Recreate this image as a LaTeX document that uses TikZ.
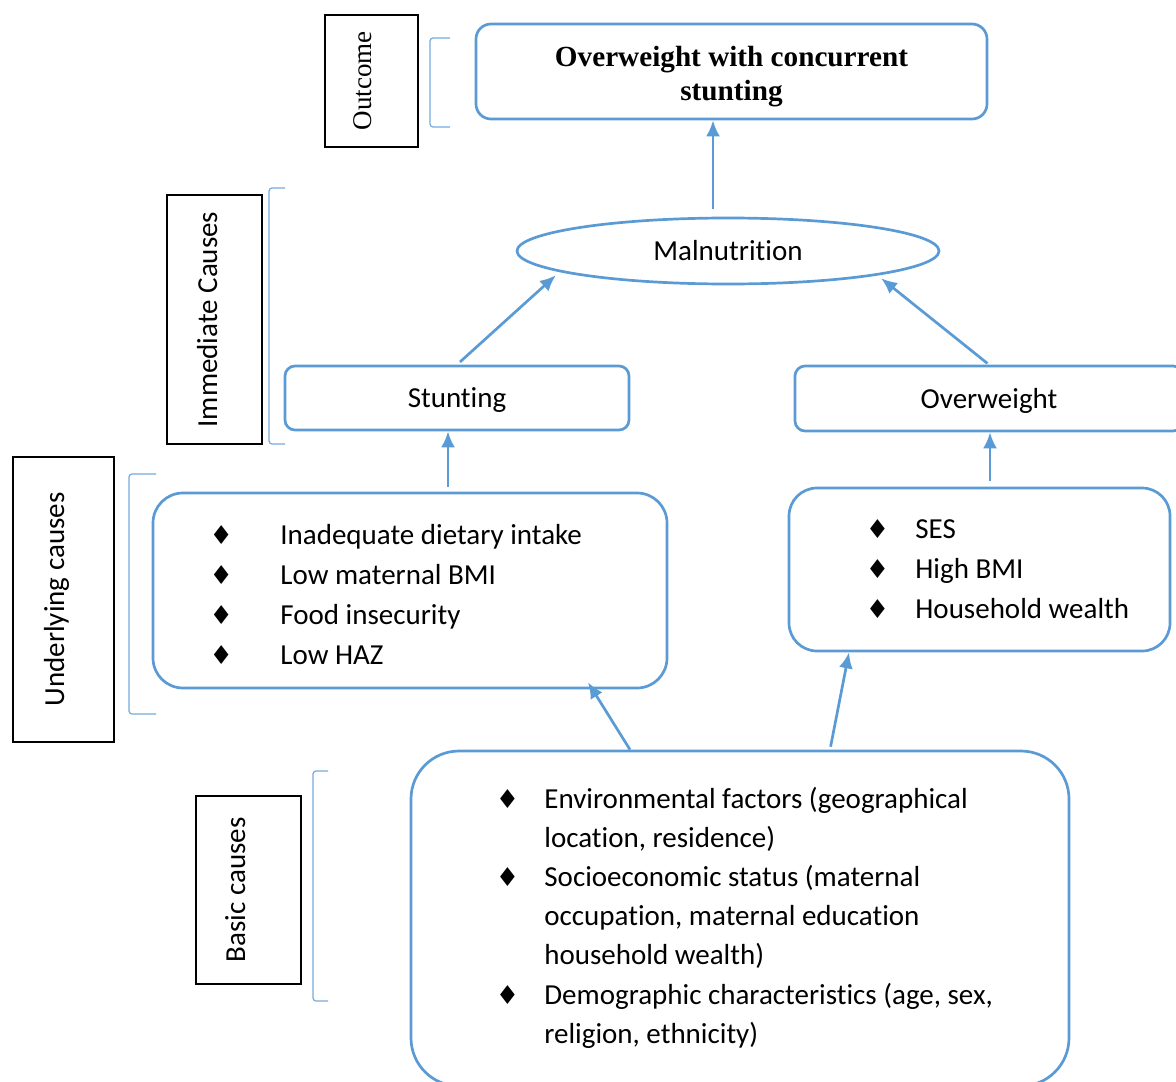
\documentclass[tikz,border=0pt]{standalone}
\usepackage{fontspec}
\setmainfont{Carlito}[Ligatures=NoCommon, RawFeature={-liga;-clig;-calt}]
\newfontfamily\timesfont{Liberation Serif}
\newfontfamily\dingfont{DejaVu Sans}
\usepackage{tikz}
\usetikzlibrary{arrows.meta,shapes.geometric}
\definecolor{ublue}{HTML}{5B9BD5}
\newcommand{\dmd}[1]{\makebox[#1][c]{\dingfont\fontsize{13}{13}\selectfont ♦}}
\newcommand{\up}[2]{\raisebox{#1}[\height][\depth]{#2}}

\begin{document}
\begin{tikzpicture}[x=0.5pt, y=-0.5pt,
  rbox/.style={draw=ublue, line width=1.35pt, rounded corners=#1, inner sep=0pt},
  rbox/.default=5pt,
  lbl/.style={draw=black, line width=0.6pt, rotate=90, inner sep=0pt},
  brk/.style={draw=ublue!85, line width=0.6pt, rounded corners=1.5pt},
  arr/.style={ublue, line width=1.35pt, -{Latex[length=8pt,width=7pt]}},
  txt/.style={font=\fontsize{14.5}{20}\selectfont, text height=9.5pt, text depth=0pt}]
\useasboundingbox (0,0) rectangle (1176,1081);

% level labels
\node[lbl, minimum width=66pt, minimum height=46.5pt, font=\timesfont\fontsize{13.5}{15}\selectfont] (outlbl) at (371.5,81) {\up{4.5pt}{Outcome}};
\node[lbl, txt, minimum width=124.5pt, minimum height=47.5pt] (immlbl) at (214.5,319.5) {\up{3.5pt}{Immediate Causes}};
\node[lbl, txt, minimum width=142.5pt, minimum height=50.5pt] (undlbl) at (63.5,599.5) {\up{4.5pt}{Underlying causes}};
\node[lbl, txt, minimum width=94pt, minimum height=52.5pt] (baslbl) at (248.5,890) {\up{6.5pt}{Basic causes}};

% brackets
\draw[brk] (450,38) -- (430,38) -- (430,127) -- (450,127);
\draw[brk] (285,188) -- (269,188) -- (269,444) -- (285,444);
\draw[brk] (156,474) -- (129,474) -- (129,714) -- (156,714);
\draw[brk] (328,771) -- (313,771) -- (313,1001) -- (328,1001);

% boxes
\node[rbox=7.5pt, minimum width=255.5pt, minimum height=47.5pt,
  font=\timesfont\bfseries\fontsize{14.6}{17}\selectfont] (title) at (731.5,71.5)
  {\up{-2.5pt}{\begin{tabular}{@{}c@{}}Overweight with concurrent\\stunting\end{tabular}}};
\node[draw=ublue, line width=1.35pt, ellipse, inner sep=0pt, minimum width=211pt, minimum height=33pt, txt] (mal) at (728,251) {Malnutrition};
\node[rbox, txt, minimum width=172pt, minimum height=32pt] (stunt) at (457,398) {Stunting};
\node[rbox, txt, minimum width=194pt, minimum height=32.5pt] (over) at (989,398.5) {Overweight};
\node[rbox=15pt, minimum width=257pt, minimum height=97.5pt] (under) at (410,590.5) {};
\node[rbox=14pt, minimum width=190.5pt, minimum height=81.5pt] (right) at (979.5,569.5) {};
\node[rbox=24pt, minimum width=329pt, minimum height=167.5pt] (basic) at (740,918.5) {};

% lists
\node[anchor=base west, inner sep=0pt, font=\fontsize{14.5}{20}\selectfont] (underlist) at (162,544)
  {\begin{tabular}[t]{@{}l@{}}
   \dmd{59pt}Inadequate dietary intake\\
   \dmd{59pt}Low maternal BMI\\
   \dmd{59pt}Food insecurity\\
   \dmd{59pt}Low HAZ
   \end{tabular}};
\node[anchor=base west, inner sep=0pt, font=\fontsize{14.5}{20}\selectfont] (rightlist) at (839,538)
  {\begin{tabular}[t]{@{}l@{}}
   \dmd{38pt}SES\\
   \dmd{38pt}High BMI\\
   \dmd{38pt}Household wealth
   \end{tabular}};
\node[anchor=base west, inner sep=0pt, font=\fontsize{14.5}{19.6}\selectfont] (basiclist) at (470,808)
  {\begin{tabular}[t]{@{}l@{}}
   \dmd{37pt}Environmental factors (geographical\\
   \hspace*{37pt}location, residence)\\
   \dmd{37pt}Socioeconomic status (maternal\\
   \hspace*{37pt}occupation, maternal education\\
   \hspace*{37pt}household wealth)\\
   \dmd{37pt}Demographic characteristics (age, sex,\\
   \hspace*{37pt}religion, ethnicity)
   \end{tabular}};

% arrows
\draw[arr] ([xshift=-7.5pt,yshift=4pt]mal.north) -- ([xshift=-7.5pt]mal.north |- title.south);
\draw[arr, shorten <=2pt] (stunt.north) -- ([xshift=-11pt]mal.south west);
\draw[arr, shorten <=1pt] (over.north) -- ([xshift=1.5pt,yshift=-1.5pt]mal.south east);
\draw[arr, shorten <=2.5pt] ([xshift=19pt]under.north) -- ([xshift=19pt]under.north |- stunt.south);
\draw[arr, shorten <=3pt] ([xshift=5.25pt]right.north) -- ([xshift=5.25pt]right.north |- over.south);
\draw[arr] ([xshift=-55pt]basic.north) -- ([xshift=89pt,yshift=3.5pt]under.south);
\draw[arr, shorten <=1.5pt] ([xshift=45pt]basic.north) -- ([xshift=-65.25pt]right.south);
\end{tikzpicture}
\end{document}
